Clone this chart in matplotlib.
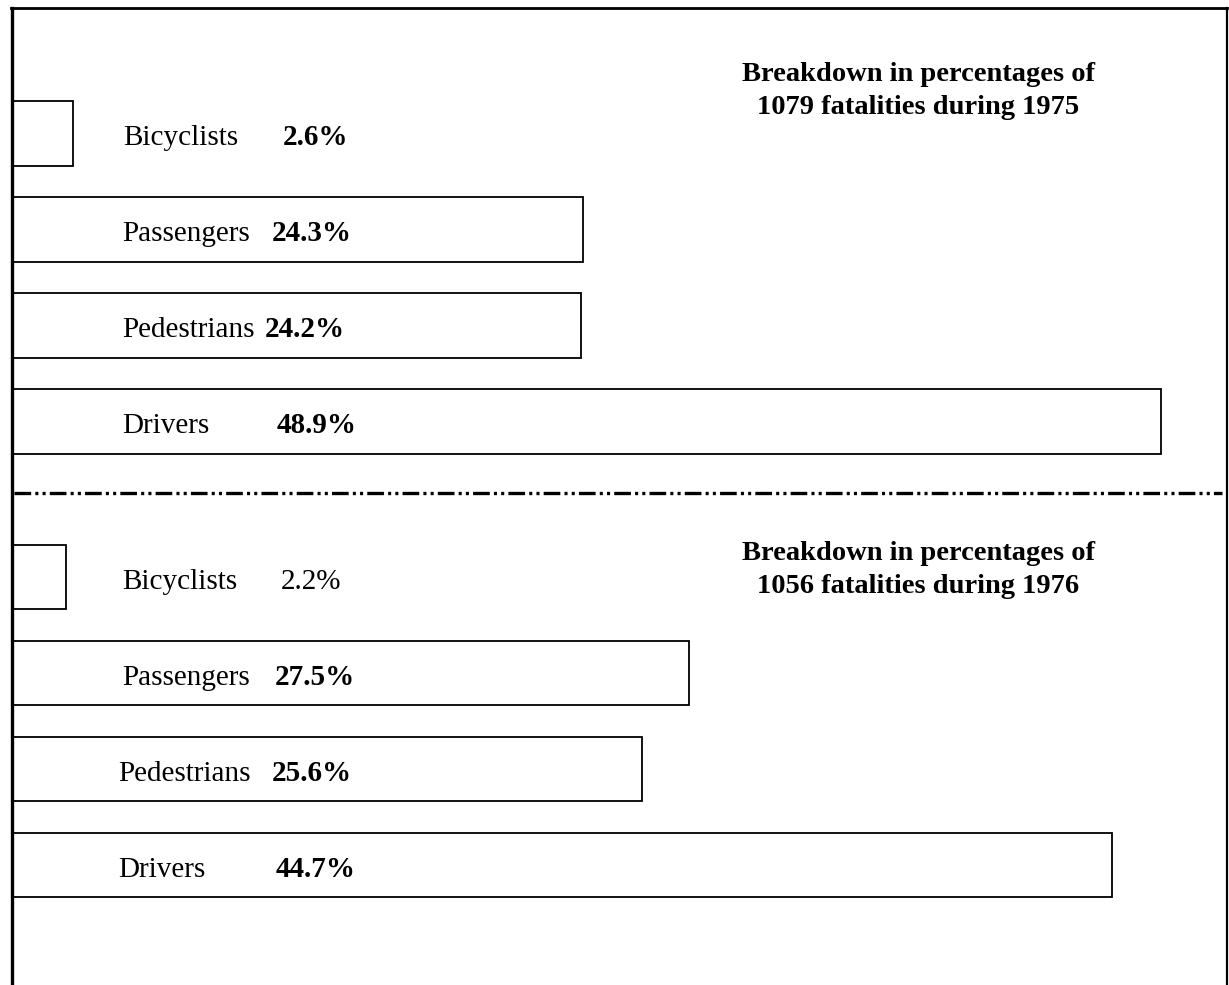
import matplotlib
matplotlib.use("Agg")
import matplotlib.pyplot as plt
from matplotlib.lines import Line2D

plt.rcParams['font.family'] = ['Liberation Serif', 'DejaVu Serif']
plt.rcParams['lines.scale_dashes'] = False

categories = ["Bicyclists", "Passengers", "Pedestrians", "Drivers"]
values_1975 = [2.6, 24.3, 24.2, 48.9]
values_1976 = [2.2, 27.5, 25.6, 44.7]
title_1975 = "Breakdown in percentages of\n1079 fatalities during 1975"
title_1976 = "Breakdown in percentages of\n1056 fatalities during 1976"
bold_1975 = [True, True, True, True]
bold_1976 = [False, True, True, True]

W, H = 1229, 985
fig = plt.figure(figsize=(W / 100, H / 100), dpi=100)
fig.patch.set_facecolor('white')

X0 = 12  # pixel x of bar origin (frame line)

def fx(px):
    return px / W

def fy(py):
    return 1 - py / H

panels = [
    dict(vals=values_1975, bold=bold_1975, title=title_1975, top=0, bot=493,
         first=133.5, scale=23.5, lab_x=[123, 122, 122, 122],
         val_x=[283, 272, 265, 277], title_y=91),
    dict(vals=values_1976, bold=bold_1976, title=title_1976, top=493, bot=985,
         first=577, scale=24.6, lab_x=[122, 122, 118, 118],
         val_x=[281, 275, 272, 276], title_y=570),
]

SP = 96.0  # pixel spacing between bars
for p in panels:
    ax = fig.add_axes([fx(X0), fy(p['bot']), fx(W - X0), (p['bot'] - p['top']) / H])
    ax.set_xlim(0, (W - X0) / p['scale'])
    y_top = (p['top'] - p['first']) / SP
    y_bot = (p['bot'] - p['first']) / SP
    ax.set_ylim(y_bot, y_top)
    ax.axis('off')
    ypos = list(range(len(categories)))
    ax.barh(ypos, p['vals'], height=0.67, left=0, color='white',
            edgecolor='black', linewidth=1.3)
    for i, (cat, v, b) in enumerate(zip(categories, p['vals'], p['bold'])):
        ax.text((p['lab_x'][i] - X0) / p['scale'], i + 0.12, cat,
                fontsize=21, va='baseline', ha='left', color='black')
        ax.text((p['val_x'][i] - X0) / p['scale'], i + 0.12, f"{v}%",
                fontsize=21, va='baseline', ha='left', color='black',
                fontweight='bold' if b else 'normal')
    fig.text(fx(918), fy(p['title_y']), p['title'], fontsize=20.5,
             fontweight='bold', ha='center', va='center', linespacing=1.4)

# frame
fig.add_artist(Line2D([fx(12), fx(12)], [fy(8), 0], color='black', lw=2.4,
                      transform=fig.transFigure))
fig.add_artist(Line2D([fx(11), fx(1227)], [fy(8), fy(8)], color='black', lw=2.0,
                      transform=fig.transFigure))
fig.add_artist(Line2D([fx(1227), fx(1227)], [fy(8), 0], color='black', lw=1.6,
                      transform=fig.transFigure))
# separator
fig.add_artist(Line2D([fx(14), fx(1222)], [fy(493), fy(493)], color='black', lw=2.4,
                      linestyle=(0, (12, 3, 2.2, 3, 2.2, 3)),
                      transform=fig.transFigure))

fig.savefig("out.png", dpi=100, facecolor='white')
